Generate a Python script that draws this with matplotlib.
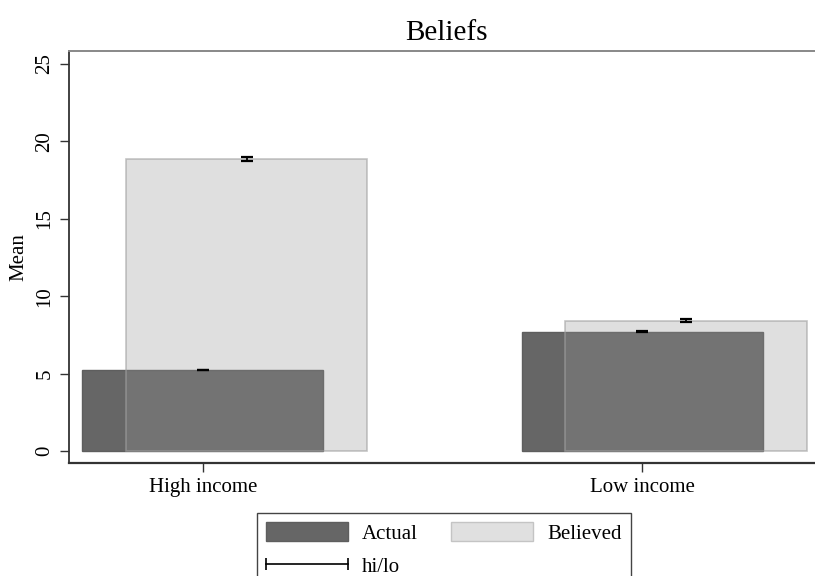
import numpy as np
import matplotlib.pyplot as plt
from matplotlib.patches import Patch
from matplotlib.lines import Line2D
from matplotlib.legend_handler import HandlerLine2D

plt.rcParams['font.family'] = ['Liberation Serif', 'DejaVu Serif']

groups = ["High income", "Low income"]
actual = [5.23, 7.70]
actual_lo = [5.21, 7.68]
actual_hi = [5.25, 7.72]
believed = [18.87, 8.42]
believed_lo = [18.75, 8.31]
believed_hi = [18.99, 8.53]
yticks = [0, 5, 10, 15, 20, 25]

x = np.arange(len(groups))
width = 0.549
shift = 0.1

fig = plt.figure(figsize=(8.15, 5.76), dpi=100)
ax = fig.add_axes([69/815, 113/576, 761/815, 412/576])

# actual bars first, believed drawn over them semi-transparent
ax.bar(x, actual, width, color='#666666', edgecolor='#5e5e5e', linewidth=1, zorder=2)
ax.bar(x + shift, believed, width, color=(0.576, 0.576, 0.576, 0.29),
       edgecolor=(0.63, 0.63, 0.63, 0.62), linewidth=1.2, zorder=3)

a_err = [np.array(actual) - np.array(actual_lo), np.array(actual_hi) - np.array(actual)]
b_err = [np.array(believed) - np.array(believed_lo), np.array(believed_hi) - np.array(believed)]
ax.errorbar(x, actual, yerr=a_err, fmt='none', ecolor='black', capsize=4.3,
            elinewidth=1.3, capthick=1.6, zorder=4)
ax.errorbar(x + shift, believed, yerr=b_err, fmt='none', ecolor='black', capsize=4.3,
            elinewidth=1.3, capthick=1.6, zorder=4)

ax.set_xlim(-0.305, 1.428)
ax.set_ylim(-0.775, 25.84)
ax.set_xticks(x)
ax.set_xticklabels(groups, fontsize=15)
ax.set_yticks(yticks)
ax.set_yticklabels([str(v) for v in yticks], fontsize=15, rotation=90, va='center')
ax.tick_params(axis='both', length=6.5, width=1, color='#333333', pad=4)
ax.set_ylabel("Mean", fontsize=15, labelpad=5)

ax.spines['right'].set_visible(False)
ax.spines['top'].set_color('#888888')
ax.spines['top'].set_linewidth(1.4)
ax.spines['left'].set_color('#333333')
ax.spines['left'].set_linewidth(1.3)
ax.spines['bottom'].set_color('#333333')
ax.spines['bottom'].set_linewidth(1.6)

fig.text(446/815, 1 - 40/576, "Beliefs", fontsize=21, ha='center', va='baseline')

handles = [
    Patch(facecolor='#666666', edgecolor='#5e5e5e', label='Actual'),
    Line2D([0, 1], [0, 0], color='black', linewidth=1.2, marker='|',
           markersize=8, markeredgewidth=1.2, label='hi/lo'),
    Patch(facecolor='#e0e0e0', edgecolor='#c4c4c4', label='Believed'),
]
leg = fig.legend(handles=handles, ncol=2, loc='upper left',
                 bbox_to_anchor=(257/815, 1 - 513/576), borderaxespad=0,
                 fontsize=15, handlelength=3.9, handleheight=1.0,
                 handletextpad=0.7, columnspacing=1.6, labelspacing=0.55,
                 borderpad=0.45, numpoints=2, fancybox=False, framealpha=1,
                 handler_map={Line2D: HandlerLine2D(marker_pad=0)})
leg.get_frame().set_edgecolor('#444444')
leg.get_frame().set_linewidth(1)

plt.savefig('out.png', dpi=100)
